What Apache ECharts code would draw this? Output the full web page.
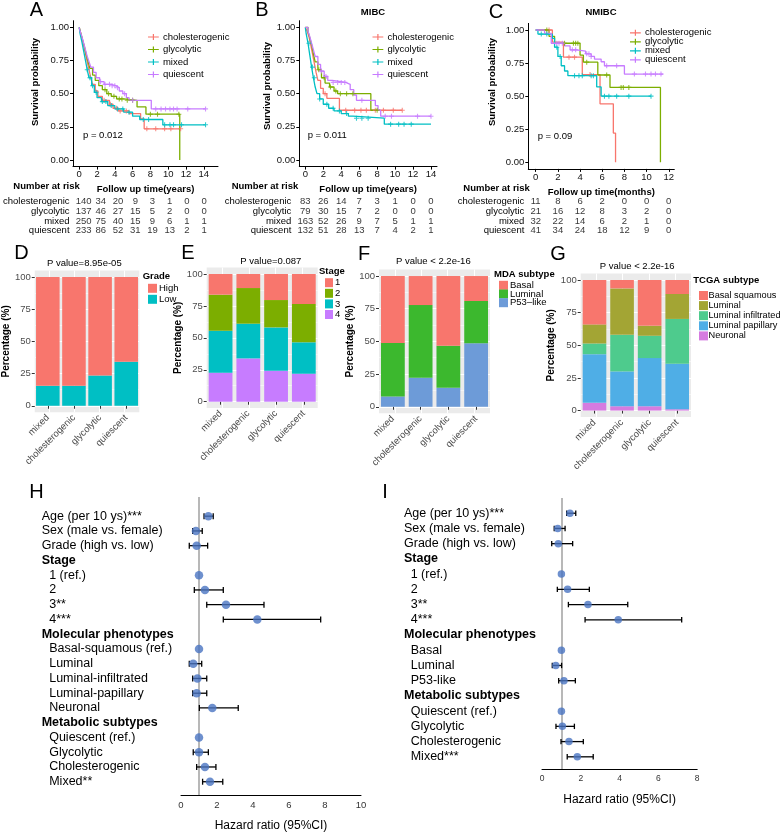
<!DOCTYPE html>
<html><head><meta charset="utf-8">
<script src="https://cdn.jsdelivr.net/npm/echarts@6/dist/echarts.min.js"></script>
<style>html,body{margin:0;padding:0;background:#fff}#c{width:780px;height:833px}</style>
</head><body><div id="c"></div>
<script>
const FONT = '"Liberation Sans", Arial, Helvetica, sans-serif';

// ---------- Survival data ----------
const groups = ['cholesterogenic', 'glycolytic', 'mixed', 'quiescent'];
const groupColors = ['#F8766D', '#7CAE00', '#00BFC4', '#C77CFF'];
const survTicksY = [0, 0.25, 0.5, 0.75, 1];

// Panel A (years): step points [time, survival]
const survA_chol = [[0,1],[0.1,0.97],[0.3,0.92],[0.5,0.86],[0.7,0.8],[0.9,0.74],[1.1,0.68],[1.3,0.62],[1.5,0.57],[1.8,0.52],[2.1,0.48],[2.6,0.45],[3.4,0.42],[3.8,0.39],[4.4,0.37],[5.6,0.35],[6.9,0.31],[7.3,0.235],[11.4,0.235]];
const survA_gly = [[0,1],[0.2,0.95],[0.4,0.9],[0.6,0.85],[0.8,0.79],[1.0,0.74],[1.2,0.69],[1.5,0.64],[1.8,0.6],[2.2,0.56],[2.6,0.53],[3.1,0.5],[3.6,0.48],[4.2,0.46],[5.0,0.45],[6.5,0.4],[7.5,0.345],[11.3,0]];
const survA_mix = [[0,1],[0.1,0.95],[0.3,0.89],[0.5,0.82],[0.7,0.75],[0.9,0.68],[1.1,0.62],[1.4,0.56],[1.7,0.51],[2.0,0.47],[2.5,0.44],[3.2,0.41],[4.0,0.385],[5.0,0.36],[6.0,0.33],[6.8,0.305],[9.4,0.265],[14.2,0.265]];
const survA_qui = [[0,1],[0.1,0.97],[0.3,0.93],[0.5,0.88],[0.7,0.83],[0.9,0.78],[1.1,0.74],[1.3,0.7],[1.6,0.66],[1.9,0.62],[2.3,0.59],[2.8,0.57],[3.6,0.56],[4.1,0.545],[4.5,0.52],[4.9,0.5],[5.3,0.47],[5.6,0.45],[8.1,0.385],[14.2,0.385]];
const censA_chol = [2.8,3.5,4.2,4.6,5.3,7.6,8.6,9.6,10.3,11.4];
const censA_gly = [2.9,3.3,3.9,4.5,4.8,5.4,6.0,8.0,8.8,11.2];
const censA_mix = [0.9,1.2,1.5,1.9,2.6,3.0,3.6,4.3,4.9,5.6,7.2,7.8,9.6,10.2,10.6,11.5,14.2];
const censA_qui = [2.4,2.9,3.4,3.7,4.0,4.3,5.1,6.0,8.6,9.2,9.7,10.2,10.6,11.0,12.2,14.2];
const riskTimesA = [0,2,4,6,8,10,12,14];
const riskA_chol = [140,34,20,9,3,1,0,0];
const riskA_gly = [137,46,27,15,5,2,0,0];
const riskA_mix = [250,75,40,15,9,6,1,1];
const riskA_qui = [233,86,52,31,19,13,2,1];

// Panel B (MIBC, years)
const survB_chol = [[0,1],[0.2,0.97],[0.4,0.93],[0.6,0.87],[0.8,0.8],[1.0,0.73],[1.2,0.66],[1.4,0.6],[1.7,0.54],[2.0,0.5],[2.4,0.465],[3.8,0.375],[10.8,0.375]];
const survB_gly = [[0,1],[0.3,0.97],[0.5,0.92],[0.7,0.87],[0.9,0.8],[1.1,0.74],[1.4,0.68],[1.8,0.62],[2.2,0.58],[2.7,0.55],[3.2,0.52],[3.6,0.5],[7.3,0.375],[8.3,0.375]];
const survB_mix = [[0,1],[0.1,0.95],[0.3,0.88],[0.5,0.79],[0.7,0.7],[0.9,0.62],[1.1,0.55],[1.3,0.5],[1.6,0.46],[2.0,0.42],[2.6,0.39],[3.2,0.37],[4.0,0.35],[4.8,0.33],[5.3,0.315],[8.8,0.27],[14.0,0.27]];
const survB_qui = [[0,1],[0.3,0.97],[0.5,0.93],[0.7,0.88],[0.9,0.83],[1.1,0.78],[1.4,0.72],[1.7,0.67],[2.1,0.63],[2.5,0.6],[3.0,0.585],[4.5,0.57],[5.0,0.53],[5.4,0.49],[5.7,0.45],[7.8,0.41],[8.1,0.375],[8.4,0.33],[14.0,0.33]];
const censB_chol = [2.2,4.5,5.5,6.2,6.8,7.8,8.7,9.8,10.8];
const censB_gly = [1.5,2.1,2.8,3.4,3.9,4.6,5.3,8.0];
const censB_mix = [0.4,0.8,1.0,1.6,2.4,3.1,3.8,4.6,5.7,6.3,7.0,9.5,10.4,11.0,11.8];
const censB_qui = [1.8,2.3,3.1,3.6,4.0,4.4,6.3,8.9,9.6,12.5,14.0];
const riskTimesB = [0,2,4,6,8,10,12,14];
const riskB_chol = [83,26,14,7,3,1,0,0];
const riskB_gly = [79,30,15,7,2,0,0,0];
const riskB_mix = [163,52,26,9,7,5,1,1];
const riskB_qui = [132,51,28,13,7,4,2,1];

// Panel C (NMIBC, months)
const survC_chol = [[0,1],[1.5,0.909],[2.5,0.795],[4.2,0.663],[5.8,0.442],[7.0,0.221],[7.2,0]];
const survC_gly = [[0,1],[1.2,0.952],[1.7,0.9],[4.0,0.81],[4.3,0.757],[5.6,0.66],[6.7,0.566],[11.25,0]];
const survC_mix = [[0,1],[0.2,0.969],[1.5,0.937],[1.7,0.87],[2.0,0.8],[2.3,0.73],[2.6,0.69],[2.9,0.655],[5.5,0.57],[5.9,0.5],[10.4,0.5]];
const survC_qui = [[0,1],[0.8,0.975],[1.4,0.9],[2.6,0.88],[3.1,0.85],[3.7,0.84],[4.5,0.82],[5.0,0.8],[5.3,0.78],[5.9,0.76],[6.2,0.73],[8.0,0.667],[11.5,0.667]];
const censC_chol = [1.2,3.0,3.5,4.9];
const censC_gly = [1.0,2.6,3.4,3.6,3.8,4.6,6.4,7.7,7.9,8.4];
const censC_mix = [0.5,1.0,1.9,2.2,3.5,3.9,4.2,5.0,5.2,6.2,6.6,7.3,8.4,10.4];
const censC_qui = [1.9,2.1,2.4,3.3,3.6,4.6,4.8,5.0,6.4,7.3,8.9,9.9,10.4,10.8,11.3];
const riskTimesC = [0,2,4,6,8,10,12];
const riskC_chol = [11,8,6,2,0,0,0];
const riskC_gly = [21,16,12,8,3,2,0];
const riskC_mix = [32,22,14,6,2,1,0];
const riskC_qui = [41,34,24,18,12,9,0];

// ---------- Bar data ----------
const barCats = ['mixed', 'cholesterogenic', 'glycolytic', 'quiescent'];
const pctTicks = [0, 25, 50, 75, 100];
const pctMinor = [12.5, 37.5, 62.5, 87.5];
const catCenters = [1, 2, 3, 4];
const gradeHigh = [84.5, 84.5, 76.5, 65.8];
const gradeLow = [15.5, 15.5, 23.5, 34.2];
const stage1 = [16.2, 11.0, 20.4, 23.5];
const stage2 = [28.2, 27.9, 21.4, 30.0];
const stage3 = [32.9, 27.2, 33.9, 24.6];
const stage4 = [22.7, 33.9, 24.3, 21.9];
const mdaBasal = [51.2, 22.2, 53.3, 19.1];
const mdaLuminal = [40.9, 55.6, 32.2, 32.4];
const mdaP53 = [7.9, 22.2, 14.5, 48.5];
const tcgaBasalSq = [34.0, 6.4, 35.1, 10.7];
const tcgaLuminal = [14.6, 35.6, 7.6, 19.1];
const tcgaLumInf = [8.2, 28.0, 17.1, 34.3];
const tcgaLumPap = [37.3, 26.7, 36.9, 34.9];
const tcgaNeuronal = [5.9, 3.3, 3.3, 1.0];

// ---------- Forest data ----------
const rowsH = ['Age (per 10 ys)***','Sex (male vs. female)','Grade (high vs. low)','Stage','1 (ref.)','2','3**','4***','Molecular phenotypes','Basal-squamous (ref.)','Luminal','Luminal-infiltrated','Luminal-papillary','Neuronal','Metabolic subtypes','Quiescent (ref.)','Glycolytic','Cholesterogenic','Mixed**'];
const typesH = ['n','n','n','h','i','i','i','i','h','i','i','i','i','i','h','i','i','i','i'];
const hrH = [1.52,0.83,0.87,null,1.0,1.33,2.5,4.24,null,1.0,0.68,0.91,0.87,1.74,null,1.0,1.0,1.33,1.61];
const loH = [1.28,0.65,0.46,null,null,0.74,1.43,2.35,null,null,0.46,0.65,0.65,1.02,null,null,0.68,0.87,1.2];
const hiH = [1.79,1.18,1.48,null,null,2.35,4.61,7.76,null,null,1.15,1.43,1.43,3.18,null,null,1.52,1.94,2.32];
const rowsI = ['Age (per 10 ys)***','Sex (male vs. female)','Grade (high vs. low)','Stage','1 (ref.)','2','3**','4***','Molecular phenotypes','Basal','Luminal','P53-like','Metabolic subtypes','Quiescent (ref.)','Glycolytic','Cholesterogenic','Mixed***'];
const typesI = ['n','n','n','h','i','i','i','i','h','i','i','i','h','i','i','i','i'];
const hrI = [1.44,0.81,0.84,null,1.0,1.32,2.37,3.93,null,1.0,0.71,1.13,null,1.0,1.05,1.39,1.82];
const loI = [1.27,0.63,0.5,null,null,0.79,1.36,2.22,null,null,0.53,0.86,null,null,0.72,0.98,1.3];
const hiI = [1.74,1.19,1.58,null,null,2.44,4.42,7.2,null,null,1.01,1.72,null,null,1.67,2.13,2.64];

// ---------- build ----------
const grid = [], xAxis = [], yAxis = [], series = [], legend = [], graphic = [];
const addG = g => (grid.push(g), grid.length - 1);
const addX = a => (xAxis.push(a), xAxis.length - 1);
const addY = a => (yAxis.push(a), yAxis.length - 1);
function T(text, x, y, o) {
  o = o || {};
  graphic.push({type: 'text', x: x, y: y, rotation: o.rot || 0, silent: true,
    style: {text: text, fontSize: o.size || 9.5, fontFamily: FONT, fontWeight: o.bold ? 'bold' : 'normal',
      fill: o.color || '#000', align: o.align || 'left', verticalAlign: 'middle'}});
}
function survAt(curve, t) { let s = curve[0][1]; for (const p of curve) { if (p[0] <= t) s = p[1]; } return s; }
const PLUS = 'path://M0,5L10,5M5,0L5,10';
const LEGPLUS = 'path://M0,4H8V0H10V4H18V6H10V10H8V6H0Z';

function survPanel(c) {
  const gi = addG({left: c.left, top: c.top, width: c.width, height: c.height});
  const xi = addX({type: 'value', gridIndex: gi, min: c.xMin, max: c.xMax,
    axisLine: {onZero: false, lineStyle: {color: '#000', width: 1}},
    axisTick: {show: true, customValues: c.riskTimes, length: 3, lineStyle: {color: '#000'}},
    axisLabel: {customValues: c.riskTimes, fontSize: 9.5, color: '#111', margin: 3, fontFamily: FONT},
    splitLine: {show: false},
    name: c.xName, nameLocation: 'middle', nameGap: 18,
    nameTextStyle: {fontWeight: 'bold', fontSize: 9.5, color: '#000', fontFamily: FONT}});
  const yi = addY({type: 'value', gridIndex: gi, min: -0.05, max: 1.05,
    axisLine: {show: true, onZero: false, lineStyle: {color: '#000', width: 1}},
    axisTick: {show: true, customValues: survTicksY, length: 3, lineStyle: {color: '#000'}},
    axisLabel: {customValues: survTicksY, formatter: v => v.toFixed(2), fontSize: 9.5, color: '#111', margin: 4, fontFamily: FONT},
    splitLine: {show: false}});
  c.curves.forEach((cv, k) => {
    series.push({type: 'line', name: groups[k], xAxisIndex: xi, yAxisIndex: yi, data: cv, step: 'end',
      symbol: 'none', lineStyle: {color: groupColors[k], width: 1.3}, itemStyle: {color: groupColors[k]}, silent: true, z: 3});
    series.push({type: 'scatter', name: groups[k], xAxisIndex: xi, yAxisIndex: yi,
      data: c.cens[k].map(t => [t, survAt(cv, t)]), symbol: PLUS, symbolSize: 5,
      itemStyle: {color: 'rgba(0,0,0,0)', borderColor: groupColors[k], borderWidth: 1.1}, silent: true, z: 4});
  });
  // risk table
  const rg = addG({left: c.left, top: 196.8, width: c.width, height: 38.8});
  const rx = addX({type: 'value', gridIndex: rg, min: c.xMin, max: c.xMax, show: false});
  const ry = addY({type: 'category', gridIndex: rg, data: groups, inverse: true,
    axisLine: {show: false}, axisTick: {show: false}, splitLine: {show: false},
    axisLabel: {interval: 0, fontSize: 9.5, color: '#000', margin: c.riskMargin, fontFamily: FONT}});
  c.risk.forEach((r, k) => {
    series.push({type: 'scatter', xAxisIndex: rx, yAxisIndex: ry, symbolSize: 1, silent: true,
      itemStyle: {color: 'rgba(0,0,0,0)'},
      data: c.riskTimes.map((t, i) => [t, k, r[i]]),
      label: {show: true, position: 'inside', formatter: p => String(p.value[2]), fontSize: 9.5, color: '#000', fontFamily: FONT}});
  });
  legend.push({left: c.legLeft, top: c.legTop, orient: 'vertical', itemWidth: 11, itemHeight: 6, itemGap: c.legGap,
    icon: LEGPLUS, selectedMode: false, data: groups,
    textStyle: {fontSize: 9.5, color: '#000', fontFamily: FONT, padding: [0, 0, 0, -1]}});
}

survPanel({left: 73, top: 20.7, width: 145, height: 145.9, xMin: -0.7, xMax: 15.6,
  riskTimes: riskTimesA, xName: 'Follow up time(years)',
  curves: [survA_chol, survA_gly, survA_mix, survA_qui],
  cens: [censA_chol, censA_gly, censA_mix, censA_qui],
  risk: [riskA_chol, riskA_gly, riskA_mix, riskA_qui], riskMargin: 8,
  legLeft: 143, legTop: 27, legGap: 2.5});
survPanel({left: 299.3, top: 20.7, width: 137.7, height: 145.9, xMin: -0.67, xMax: 14.67,
  riskTimes: riskTimesB, xName: 'Follow up time(years)',
  curves: [survB_chol, survB_gly, survB_mix, survB_qui],
  cens: [censB_chol, censB_gly, censB_mix, censB_qui],
  risk: [riskB_chol, riskB_gly, riskB_mix, riskB_qui], riskMargin: 8,
  legLeft: 367.5, legTop: 27, legGap: 2.5});
survPanel({left: 528.3, top: 23.4, width: 146, height: 145.5, xMin: -0.67, xMax: 12.5,
  riskTimes: riskTimesC, xName: 'Follow up time(months)',
  curves: [survC_chol, survC_gly, survC_mix, survC_qui],
  cens: [censC_chol, censC_gly, censC_mix, censC_qui],
  risk: [riskC_chol, riskC_gly, riskC_mix, riskC_qui], riskMargin: 4,
  legLeft: 625, legTop: 22.8, legGap: -1});

// survival texts
T('Survival probability', 35, 82, {bold: true, rot: Math.PI / 2, align: 'center'});
T('Survival probability', 267, 86, {bold: true, rot: Math.PI / 2, align: 'center'});
T('Survival probability', 492, 82, {bold: true, rot: Math.PI / 2, align: 'center'});
T('MIBC', 373, 12.5, {bold: true, align: 'center'});
T('NMIBC', 601, 12.7, {bold: true, align: 'center'});
T('p = 0.012', 83, 135);
T('p = 0.011', 307.7, 135);
T('p = 0.09', 537.7, 136.7);
T('Number at risk', 13.3, 186, {bold: true});
T('Number at risk', 231.7, 186, {bold: true});
T('Number at risk', 463.3, 188.3, {bold: true});

// ---------- bar panels ----------
function barPanel(c) {
  const unit = c.width / 4.2;
  const gi = addG({left: c.left, top: c.top, width: c.width, height: c.height, show: true, backgroundColor: '#EBEBEB', borderWidth: 0});
  const xc = addX({type: 'category', gridIndex: gi, data: barCats, boundaryGap: true,
    axisLine: {show: false},
    axisTick: {show: true, alignWithLabel: true, length: 3, lineStyle: {color: '#333'}},
    axisLabel: {interval: 0, rotate: 45, fontSize: 9.5, color: '#4D4D4D', margin: 4, fontFamily: FONT},
    splitLine: {show: false}});
  // hidden value axis only for the white vertical gridlines at category centres
  addX({type: 'value', gridIndex: gi, min: 0.4, max: 4.6, position: 'top',
    axisLine: {show: false}, axisLabel: {show: false},
    axisTick: {show: false, customValues: catCenters},
    splitLine: {show: true, lineStyle: {color: '#fff', width: 1}}});
  const yi = addY({type: 'value', gridIndex: gi, min: -5, max: 105,
    axisLine: {show: false},
    axisTick: {show: true, customValues: pctTicks, length: 3, lineStyle: {color: '#333'}},
    axisLabel: {customValues: pctTicks, fontSize: 9.5, color: '#4D4D4D', margin: 4, fontFamily: FONT},
    splitLine: {show: true, lineStyle: {color: '#fff', width: 1}},
    name: 'Percentage (%)', nameLocation: 'middle', nameGap: c.nameGap || 22,
    nameTextStyle: {fontWeight: 'bold', fontSize: 10, color: '#000', fontFamily: FONT}});
  // hidden value axis for the thin minor gridlines
  addY({type: 'value', gridIndex: gi, min: -5, max: 105, position: 'right',
    axisLine: {show: false}, axisLabel: {show: false},
    axisTick: {show: false, customValues: pctMinor},
    splitLine: {show: true, lineStyle: {color: '#fff', width: 0.5}}});
  c.layers.forEach(L => {
    series.push({type: 'bar', name: L.name, stack: 'st' + gi, xAxisIndex: xc, yAxisIndex: yi,
      barWidth: 0.9 * unit, itemStyle: {color: L.color}, silent: true,
      data: L.values});
  });
  legend.push({left: c.legLeft, top: c.legTop, orient: 'vertical', itemWidth: c.keyW || 9, itemHeight: c.keyH || 9,
    itemGap: c.legGap, icon: 'rect', selectedMode: false,
    data: c.legOrder.map(n => n),
    textStyle: {fontSize: c.legFont || 9.5, color: '#000', fontFamily: FONT, padding: [0, 0, 0, c.legPad || -3]}});
}

barPanel({left: 29.3, top: 270.6, width: 110, height: 141.6,
  layers: [{name: 'Low', color: '#00BFC4', values: gradeLow}, {name: 'High', color: '#F8766D', values: gradeHigh}],
  legOrder: ['High', 'Low'], legLeft: 143, legTop: 278.3, legGap: 1});
barPanel({left: 206.7, top: 267.6, width: 111, height: 140.5,
  layers: [{name: '4', color: '#C77CFF', values: stage4}, {name: '3', color: '#00BFC4', values: stage3},
           {name: '2', color: '#7CAE00', values: stage2}, {name: '1', color: '#F8766D', values: stage1}],
  legOrder: ['1', '2', '3', '4'], legLeft: 320, legTop: 272.7, legGap: 0.6, keyW: 8});
barPanel({left: 379, top: 269.5, width: 111, height: 143.8,
  layers: [{name: 'P53\u2013like', color: '#6D9BD8', values: mdaP53}, {name: 'Luminal', color: '#3CB82E', values: mdaLuminal},
           {name: 'Basal', color: '#F8766D', values: mdaBasal}],
  legOrder: ['Basal', 'Luminal', 'P53\u2013like'], legLeft: 494, legTop: 275.3, legGap: -1.3});
barPanel({left: 580.7, top: 273.5, width: 110.3, height: 143.6, nameGap: 24,
  layers: [{name: 'Neuronal', color: '#D57BE0', values: tcgaNeuronal}, {name: 'Luminal papillary', color: '#4FAEE6', values: tcgaLumPap},
           {name: 'Luminal infiltrated', color: '#4ECB8D', values: tcgaLumInf}, {name: 'Luminal ', color: '#A3A534', values: tcgaLuminal},
           {name: 'Basal squamous', color: '#F8766D', values: tcgaBasalSq}],
  legOrder: ['Basal squamous', 'Luminal ', 'Luminal infiltrated', 'Luminal papillary', 'Neuronal'],
  legLeft: 694, legTop: 286, legGap: 1.1, legFont: 9.2, legPad: -4.5});

T('P value=8.95e-05', 84.3, 263.3, {align: 'center'});
T('P value=0.087', 270.8, 261.7, {align: 'center'});
T('P value < 2.2e-16', 433.3, 261.7, {align: 'center'});
T('P value < 2.2e-16', 637.2, 266.7, {align: 'center'});
T('Grade', 142.7, 276, {bold: true});
T('Stage', 319, 271.7, {bold: true});
T('MDA subtype', 494, 274.3, {bold: true});
T('TCGA subtype', 693.3, 280.7, {bold: true});

// ---------- forest panels ----------
function forestPanel(c) {
  const gi = addG({left: c.left, top: c.top, width: c.width, height: c.height});
  const xi = addX({type: 'value', gridIndex: gi, min: 0, max: c.xMax, interval: 2,
    axisLine: {show: true, onZero: false, lineStyle: {color: '#000', width: 1}},
    axisTick: {show: false},
    axisLabel: {fontSize: c.tickSize, color: '#333', margin: 5, fontFamily: FONT},
    splitLine: {show: false},
    name: 'Hazard ratio (95%CI)', nameLocation: 'middle', nameGap: c.nameGap,
    nameTextStyle: {fontSize: 12, color: '#000', fontFamily: FONT}});
  const idx = c.rows.map((r, i) => i);
  const yi = addY({type: 'value', gridIndex: gi, inverse: true, min: c.yMin, max: c.yMax,
    axisLine: {show: false, onZero: false}, axisTick: {show: false}, splitLine: {show: false},
    axisLabel: {customValues: idx, align: 'left', margin: c.labelMargin, fontFamily: FONT,
      formatter: v => { const i = Math.round(v); return '{' + c.types[i] + '|' + c.rows[i] + '}'; },
      rich: {h: {fontWeight: 'bold', fontSize: 12.5, color: '#000', fontFamily: FONT},
             n: {fontSize: 12.5, color: '#000', fontFamily: FONT},
             i: {fontSize: 12.5, color: '#000', fontFamily: FONT, padding: [0, 0, 0, c.indent]}}}});
  const eb = [];
  c.rows.forEach((r, i) => { if (c.lo[i] != null) eb.push([i, c.lo[i], c.hi[i]]); });
  const cap = c.cap;
  series.push({type: 'custom', xAxisIndex: xi, yAxisIndex: yi, silent: true, z: 3,
    encode: {x: [1, 2], y: 0}, data: eb,
    renderItem: (params, api) => {
      const y = api.value(0);
      const p1 = api.coord([api.value(1), y]);
      const p2 = api.coord([api.value(2), y]);
      const st = {stroke: '#000', lineWidth: 1.3};
      return {type: 'group', children: [
        {type: 'line', shape: {x1: p1[0], y1: p1[1], x2: p2[0], y2: p2[1]}, style: st},
        {type: 'line', shape: {x1: p1[0], y1: p1[1] - cap, x2: p1[0], y2: p1[1] + cap}, style: st},
        {type: 'line', shape: {x1: p2[0], y1: p2[1] - cap, x2: p2[0], y2: p2[1] + cap}, style: st}]};
    }});
  const dots = [];
  c.rows.forEach((r, i) => { if (c.hr[i] != null) dots.push([c.hr[i], i]); });
  series.push({type: 'scatter', xAxisIndex: xi, yAxisIndex: yi, data: dots, symbolSize: c.dot, silent: true, z: 4,
    itemStyle: {color: '#4A74C2'},
    markLine: {silent: true, symbol: 'none', label: {show: false}, animation: false, z: 1,
      lineStyle: {color: '#A0A0A0', width: 1.5, type: 'solid'}, data: [{xAxis: 1}]}});
}

forestPanel({left: 181, top: 497, width: 180, height: 304.7, xMax: 10, yMin: -1.3, yMax: 18.9,
  rows: rowsH, types: typesH, hr: hrH, lo: loH, hi: hiH, labelMargin: 139.3, indent: 7.5,
  tickSize: 9.5, nameGap: 25, cap: 3, dot: 8.5});
forestPanel({left: 542, top: 498, width: 155.2, height: 271, xMax: 8, yMin: -1.0, yMax: 16.8,
  rows: rowsI, types: typesI, hr: hrI, lo: loI, hi: hiI, labelMargin: 138, indent: 6.7,
  tickSize: 8.5, nameGap: 24.3, cap: 2.7, dot: 7.5});

// panel letters
T('A', 36.5, 10, {size: 20, align: 'center'});
T('B', 262, 10, {size: 20, align: 'center'});
T('C', 496, 12, {size: 20, align: 'center'});
T('D', 21.5, 253, {size: 20, align: 'center'});
T('E', 188, 253, {size: 20, align: 'center'});
T('F', 364, 254, {size: 20, align: 'center'});
T('G', 558, 254, {size: 20, align: 'center'});
T('H', 36.5, 492, {size: 20, align: 'center'});
T('I', 385, 492, {size: 20, align: 'center'});

const chart = echarts.init(document.getElementById('c'), null, {renderer: 'canvas', width: 780, height: 833});
chart.setOption({animation: false, textStyle: {fontFamily: FONT}, grid, xAxis, yAxis, series, legend, graphic});
</script></body></html>
